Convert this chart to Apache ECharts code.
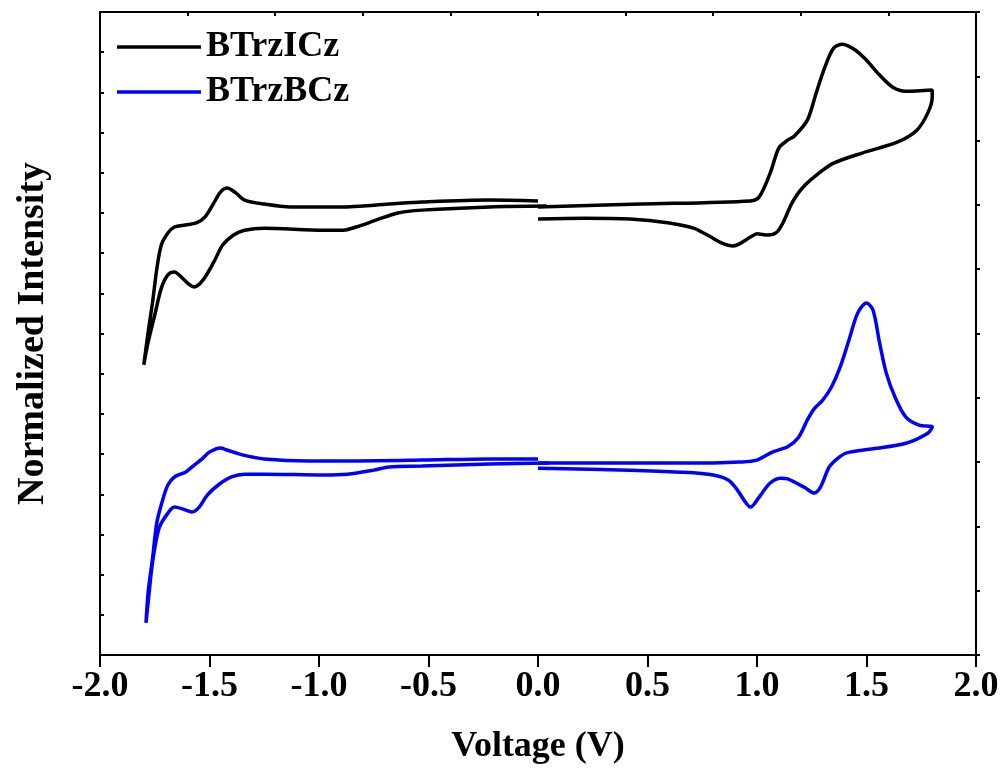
<!DOCTYPE html>
<html>
<head>
<meta charset="utf-8">
<script src="https://cdn.jsdelivr.net/npm/echarts@6/dist/echarts.min.js"></script>
<style>
html,body{margin:0;padding:0;background:#fff;}
#chart{width:1007px;height:776px;}
</style>
</head>
<body>
<div id="chart"></div>
<script>
// ---- Data (voltage in V, normalized intensity in arbitrary units) ----
const seriesNames = ['BTrzICz', 'BTrzBCz'];
const seriesColors = ['#000000', '#0000ff'];
const xTickLabels = ['-2.0','-1.5','-1.0','-0.5','0.0','0.5','1.0','1.5','2.0'];

// BTrzICz, anodic scan loop (0 -> 1.8 -> 0 V)
const icz_pos_V = [0.00,0.47,0.97,1.01,1.06,1.10,1.14,1.17,1.23,1.27,1.31,1.35,1.39,1.45,1.50,1.56,1.62,1.68,1.80,
                   1.80,1.78,1.73,1.64,1.48,1.35,1.29,1.21,1.16,1.12,1.09,1.05,1.00,0.97,0.92,0.89,0.84,0.79,0.71,0.60,0.42,0.21,0.00];
const icz_pos_I = [11.15,11.22,11.30,11.40,11.99,12.62,12.81,12.91,13.31,13.98,14.63,15.10,15.20,15.05,14.80,14.43,14.13,14.03,14.06,
                   13.88,13.49,13.06,12.76,12.49,12.24,12.02,11.64,11.25,10.77,10.52,10.45,10.48,10.40,10.23,10.18,10.25,10.40,10.62,10.75,10.85,10.87,10.85];

// BTrzICz, cathodic scan loop (0 -> -1.8 -> 0 V)
const icz_neg_V = [0.00,-0.22,-0.53,-0.68,-0.90,-1.13,-1.25,-1.34,-1.38,-1.42,-1.45,-1.48,-1.52,-1.56,-1.61,-1.66,-1.69,-1.72,-1.74,-1.76,-1.78,-1.80,
                   -1.78,-1.75,-1.72,-1.69,-1.66,-1.63,-1.59,-1.57,-1.53,-1.48,-1.44,-1.39,-1.34,-1.25,-0.98,-0.89,-0.83,-0.74,-0.64,-0.53,-0.22,0.04];
const icz_neg_I = [11.30,11.32,11.27,11.22,11.15,11.15,11.22,11.32,11.50,11.62,11.52,11.25,10.90,10.75,10.70,10.65,10.50,10.20,9.63,8.78,8.04,7.22,
                   7.79,8.46,9.13,9.46,9.53,9.41,9.21,9.16,9.33,9.78,10.20,10.45,10.57,10.62,10.57,10.57,10.65,10.82,11.00,11.07,11.15,11.17];

// BTrzBCz, anodic scan loop
const bcz_pos_V = [0.00,0.42,0.80,0.92,1.00,1.07,1.14,1.19,1.23,1.26,1.30,1.34,1.38,1.42,1.46,1.50,1.53,1.56,1.59,1.63,1.68,1.74,1.80,
                   1.78,1.68,1.53,1.41,1.37,1.33,1.29,1.26,1.22,1.14,1.11,1.06,1.01,0.97,0.94,0.91,0.87,0.80,0.65,0.42,0.00];
const bcz_pos_I = [4.78,4.78,4.78,4.80,4.85,5.05,5.18,5.42,5.85,6.12,6.34,6.67,7.17,7.84,8.51,8.76,8.58,7.76,7.02,6.42,5.92,5.72,5.67,
                   5.52,5.27,5.13,5.03,4.90,4.68,4.18,4.03,4.16,4.38,4.40,4.28,3.93,3.68,3.86,4.11,4.35,4.48,4.55,4.60,4.65];

// BTrzBCz, cathodic scan loop
const bcz_neg_V = [0.00,-0.22,-0.53,-0.83,-1.05,-1.25,-1.35,-1.42,-1.45,-1.50,-1.53,-1.58,-1.61,-1.66,-1.69,-1.71,-1.74,-1.76,-1.78,-1.79,
                   -1.78,-1.76,-1.73,-1.69,-1.66,-1.62,-1.58,-1.55,-1.51,-1.46,-1.40,-1.34,-1.25,-0.98,-0.87,-0.75,-0.68,-0.53,-0.22,0.05];
const bcz_neg_I = [4.88,4.88,4.85,4.83,4.83,4.88,4.98,5.10,5.15,5.05,4.90,4.68,4.55,4.43,4.23,3.93,3.31,2.41,1.57,0.80,
                   1.32,2.31,3.16,3.53,3.68,3.63,3.56,3.66,3.98,4.23,4.43,4.50,4.50,4.48,4.50,4.60,4.68,4.70,4.75,4.78];

function zip(a, b) { return a.map((v, i) => [v, b[i]]); }

const FONT = '"Liberation Serif", "Times New Roman", serif';

const chart = echarts.init(document.getElementById('chart'), null, {renderer: 'canvas'});

function lineSeries(name, color, data) {
  return {
    name: name, type: 'line', data: data, showSymbol: false, symbol: 'none',
    smooth: 0.3, lineStyle: {color: color, width: 3.5}, itemStyle: {color: color},
    xAxisIndex: 0, yAxisIndex: 0, animation: false, clip: false
  };
}

chart.setOption({
  animation: false,
  backgroundColor: '#ffffff',
  grid: {left: 100, right: 31, top: 12, bottom: 121, containLabel: false},
  legend: {
    show: true,
    orient: 'vertical', left: 117, top: 29, itemGap: 9, padding: 0,
    itemWidth: 84, itemHeight: 3.5,
    data: seriesNames.map((n, i) => ({name: n, icon: 'rect', itemStyle: {color: seriesColors[i]}})),
    textStyle: {fontFamily: FONT, fontWeight: 'bold', fontSize: 36, color: '#000'}
  },
  xAxis: [{
    type: 'value', min: -2, max: 2, interval: 0.5, position: 'bottom',
    axisLine: {show: true, onZero: false, lineStyle: {color: '#000', width: 2}},
    axisTick: {show: true, inside: false, length: 12, lineStyle: {color: '#000', width: 2}},
    axisLabel: {show: true, margin: 14, fontFamily: FONT, fontWeight: 'bold', fontSize: 36, color: '#000',
      formatter: (v) => xTickLabels[Math.round((v + 2) / 0.5)]},
    splitLine: {show: false},
    name: 'Voltage (V)', nameLocation: 'middle', nameGap: 74,
    nameTextStyle: {fontFamily: FONT, fontWeight: 'bold', fontSize: 36, color: '#000'}
  }, {
    type: 'value', min: -2, max: 2, interval: 0.4, position: 'top',
    axisLine: {show: true, onZero: false, lineStyle: {color: '#000', width: 2}},
    axisTick: {show: true, inside: true, length: 4, lineStyle: {color: '#000', width: 2}},
    axisLabel: {show: false}, splitLine: {show: false}
  }],
  yAxis: [{
    type: 'value', min: 0, max: 16, interval: 1, position: 'left',
    axisLine: {show: true, onZero: false, lineStyle: {color: '#000', width: 2}},
    axisTick: {show: true, inside: true, length: 4, lineStyle: {color: '#000', width: 2}},
    axisLabel: {show: false}, splitLine: {show: false},
    name: 'Normalized Intensity', nameLocation: 'middle', nameGap: 48, nameRotate: 90,
    nameTextStyle: {fontFamily: FONT, fontWeight: 'bold', fontSize: 38, color: '#000'}
  }, {
    type: 'value', min: 0, max: 16, interval: 1.6, position: 'right',
    axisLine: {show: true, onZero: false, lineStyle: {color: '#000', width: 2}},
    axisTick: {show: true, inside: false, length: 4, lineStyle: {color: '#000', width: 2}},
    axisLabel: {show: false}, splitLine: {show: false}
  }],
  series: [
    lineSeries(seriesNames[0], seriesColors[0], zip(icz_pos_V, icz_pos_I)),
    lineSeries(seriesNames[0], seriesColors[0], zip(icz_neg_V, icz_neg_I)),
    lineSeries(seriesNames[1], seriesColors[1], zip(bcz_pos_V, bcz_pos_I)),
    lineSeries(seriesNames[1], seriesColors[1], zip(bcz_neg_V, bcz_neg_I))
  ]
});
</script>
</body>
</html>
